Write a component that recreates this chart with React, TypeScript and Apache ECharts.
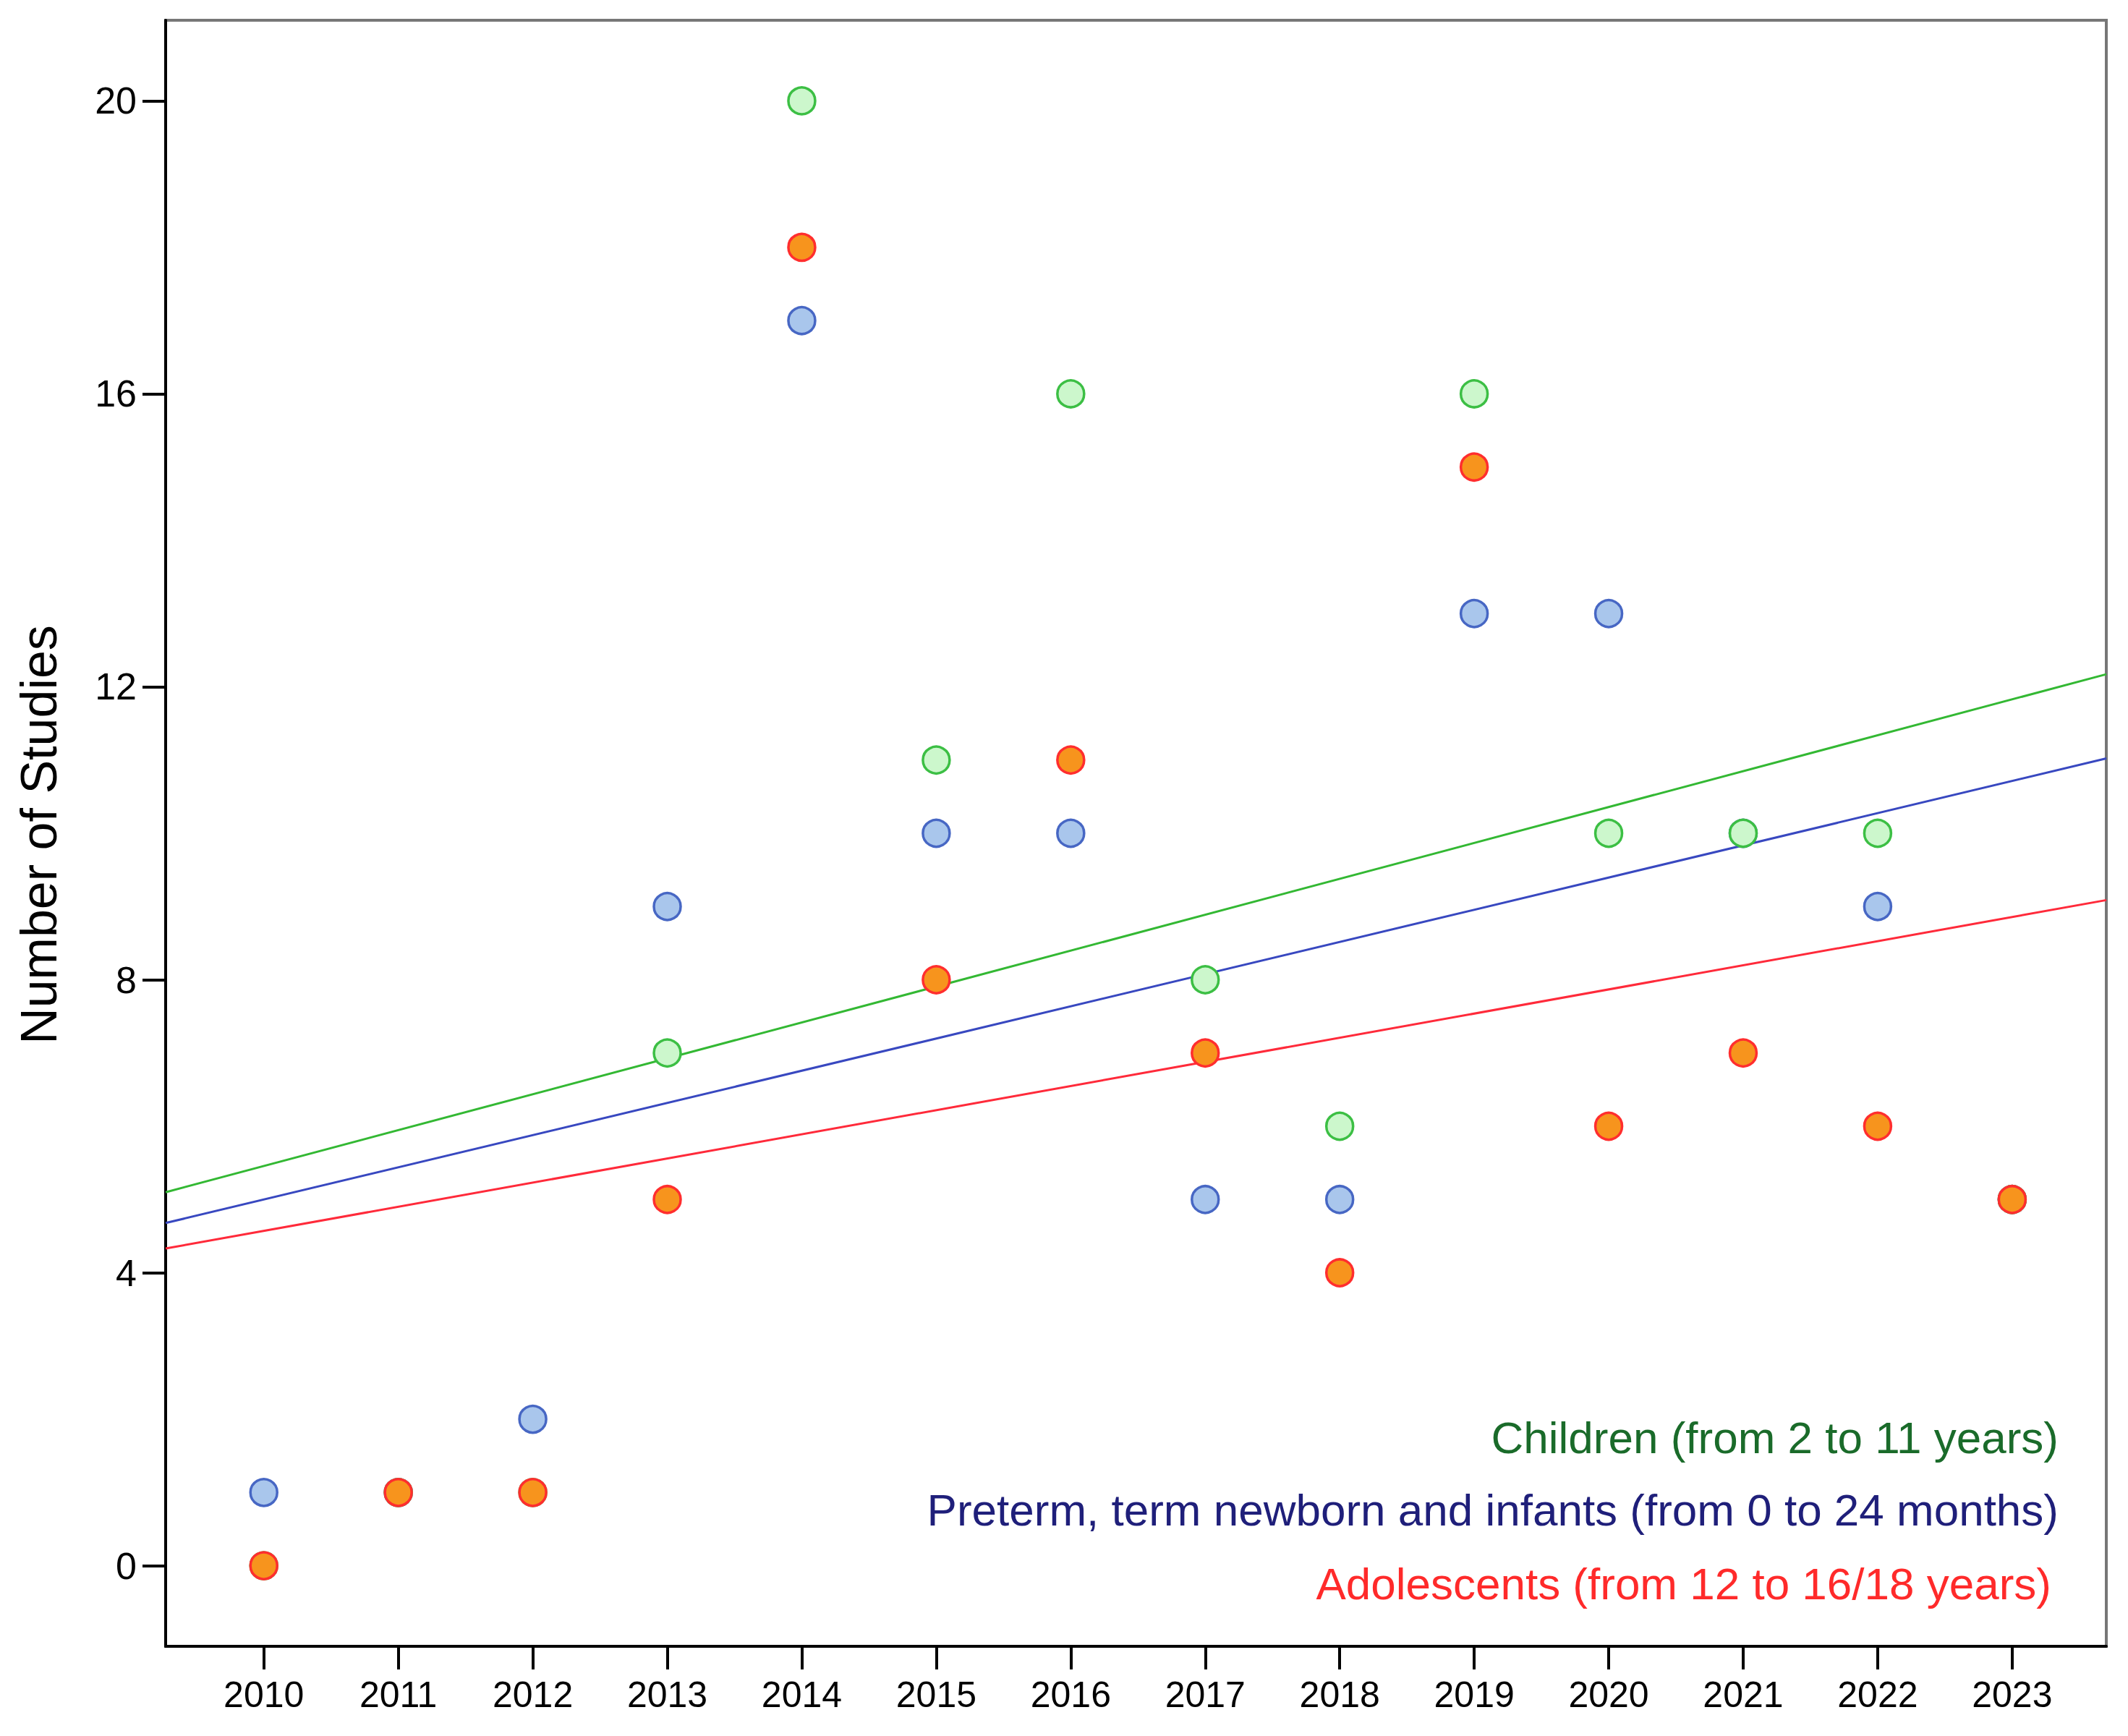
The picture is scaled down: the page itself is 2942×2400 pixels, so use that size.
import React, { useEffect, useRef } from "react";
import * as echarts from "echarts";

const years = [2010, 2011, 2012, 2013, 2014, 2015, 2016, 2017, 2018, 2019, 2020, 2021, 2022, 2023];
const children = [0, 1, 1, 7, 20, 11, 16, 8, 6, 16, 10, 10, 10, 5];
const infants = [1, 1, 2, 9, 17, 10, 10, 5, 5, 13, 13, 10, 9, 5];
const adolescents = [0, 1, 1, 5, 18, 8, 11, 7, 4, 15, 6, 7, 6, 5];
const yTicks = [0, 4, 8, 12, 16, 20];
const labels = {
  children: "Children (from 2 to 11 years)",
  infants: "Preterm, term newborn and infants (from 0 to 24 months)",
  adolescents: "Adolescents (from 12 to 16/18 years)",
};

const X_MIN = 2009.27;
const X_MAX = 2023.7;
const Y_MIN = -1.1;
const Y_MAX = 21.1;

function fitLine(xs: number[], ys: number[]) {
  const n = xs.length;
  const mx = xs.reduce((a, b) => a + b, 0) / n;
  const my = ys.reduce((a, b) => a + b, 0) / n;
  let sxy = 0;
  let sxx = 0;
  for (let i = 0; i < n; i++) {
    sxy += (xs[i] - mx) * (ys[i] - my);
    sxx += (xs[i] - mx) * (xs[i] - mx);
  }
  const b = sxy / sxx;
  const a = my - b * mx;
  return [
    [X_MIN, a + b * X_MIN],
    [X_MAX, a + b * X_MAX],
  ];
}

const FONT = "'Liberation Sans', Arial, sans-serif";

export default function App() {
  const ref = useRef<HTMLDivElement>(null);
  useEffect(() => {
    document.body.style.margin = "0";
    if (!ref.current) return;
    const chart = echarts.init(ref.current, null, { renderer: "svg" });
    const pts = (ys: number[]) => years.map((y, i) => [y, ys[i]]);
    const scatter = (name: string, ys: number[], fill: string, border: string, z: number) => ({
      name,
      type: "scatter",
      data: pts(ys),
      symbol: "circle",
      symbolSize: 37,
      z,
      itemStyle: { color: fill, borderColor: border, borderWidth: 3.5, opacity: 1 },
    });
    const line = (name: string, ys: number[], color: string) => ({
      name,
      type: "line",
      data: fitLine(years, ys),
      symbol: "none",
      z: 1,
      lineStyle: { color, width: 3 },
    });
    chart.setOption({
      animation: false,
      backgroundColor: "#ffffff",
      grid: {
        left: 229,
        right: 30,
        top: 28,
        bottom: 124,
        show: true,
        borderColor: "#777777",
        borderWidth: 4,
        backgroundColor: "#ffffff",
      },
      xAxis: {
        type: "value",
        min: X_MIN,
        max: X_MAX,
        splitLine: { show: false },
        axisLine: { show: true, onZero: false, lineStyle: { color: "#000", width: 4 } },
        axisTick: {
          show: true,
          length: 32,
          customValues: years,
          lineStyle: { color: "#000", width: 4 },
        },
        axisLabel: {
          customValues: years,
          formatter: (v: number) => String(Math.round(v)),
          color: "#000",
          fontSize: 50,
          fontFamily: FONT,
          margin: 42,
        },
      },
      yAxis: {
        type: "value",
        min: Y_MIN,
        max: Y_MAX,
        splitLine: { show: false },
        axisLine: { show: true, onZero: false, lineStyle: { color: "#000", width: 4 } },
        axisTick: {
          show: true,
          length: 32,
          customValues: yTicks,
          lineStyle: { color: "#000", width: 4 },
        },
        axisLabel: {
          customValues: yTicks,
          formatter: (v: number) => String(Math.round(v)),
          color: "#000",
          fontSize: 52,
          fontFamily: FONT,
          margin: 40,
        },
      },
      series: [
        line("Children fit", children, "#33b833"),
        line("Infants fit", infants, "#3848c0"),
        line("Adolescents fit", adolescents, "#ff2a3a"),
        scatter("Infants", infants, "#a9c6ec", "#4767c4", 2),
        scatter("Children", children, "#ccf7cc", "#3cbf44", 3),
        scatter("Adolescents", adolescents, "#f7941d", "#ff2e2e", 4),
      ],
      graphic: [
        {
          type: "text",
          x: 54,
          y: 1154,
          rotation: Math.PI / 2,
          style: {
            text: "Number of Studies",
            fill: "#000",
            font: `70px ${FONT}`,
            textAlign: "center",
            textVerticalAlign: "middle",
          },
        },
        {
          type: "text",
          right: 96,
          top: 1956,
          style: { text: labels.children, fill: "#1a6b2a", font: `62px ${FONT}` },
        },
        {
          type: "text",
          right: 96,
          top: 2056,
          style: { text: labels.infants, fill: "#1f1f7a", font: `62px ${FONT}` },
        },
        {
          type: "text",
          right: 106,
          top: 2158,
          style: { text: labels.adolescents, fill: "#ff2a2a", font: `62px ${FONT}` },
        },
      ],
    });
    return () => chart.dispose();
  }, []);
  return <div ref={ref} style={{ width: 2942, height: 2400 }} />;
}
